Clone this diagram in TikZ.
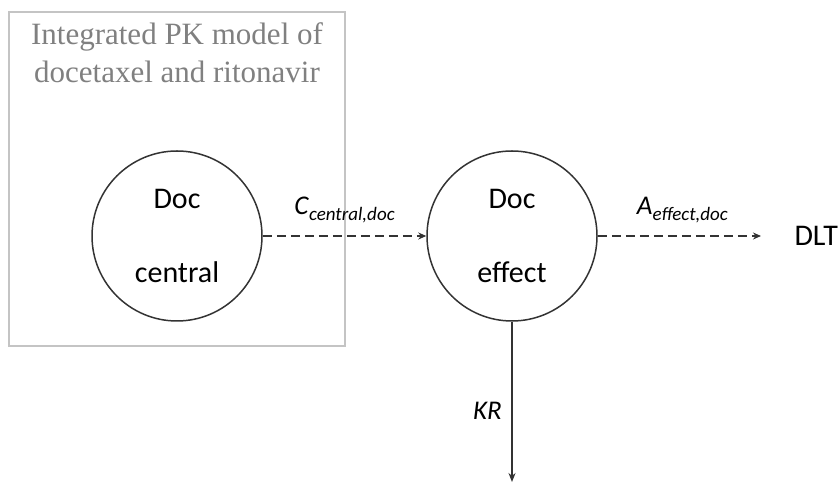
\documentclass[tikz,border=0pt]{standalone}
\usepackage{fontspec}
\setmainfont{Carlito}
\newfontfamily\titlefont{Liberation Serif}
\usetikzlibrary{arrows.meta, positioning}
\definecolor{PKGrey}{HTML}{C4C4C4}
\definecolor{PKTitle}{HTML}{808080}
\definecolor{PKLine}{HTML}{333333}
\newcommand{\sublabel}[2]{\textit{#1}\raisebox{-6pt}{\fontsize{19}{19}\selectfont\textit{#2}}}
\tikzset{
    % compartments
    compartment/.style={
        circle,
        draw=PKLine,
        line width=1.5pt,
        minimum size=170pt,
        inner sep=0pt,
        align=center,
        font=\fontsize{30}{36}\selectfont
    },
    modelbox/.style={
        draw=PKGrey,
        line width=1.3pt
    },
    lbl/.style={
        font=\fontsize{27}{30}\selectfont,
        inner sep=0pt
    },
    % arrows
    dasharrow/.style={
        -{Stealth[length=8pt, width=7pt]},
        line width=1.4pt,
        draw=PKLine,
        dash pattern=on 9pt off 5pt
    },
    arrow/.style={
        -{Stealth[length=9pt, width=7pt]},
        line width=1.4pt,
        draw=PKLine
    }
}
\begin{document}
\begin{tikzpicture}[x=1pt, y=1pt]
    \useasboundingbox (0,0) rectangle (838,484);

    \draw[modelbox] (9,138) rectangle (345,472);
    \node[font=\titlefont\fontsize{31}{38}\selectfont, text=PKTitle, align=center] (title) at (177,431)
        {Integrated PK model of\\docetaxel and ritonavir};

    \node[compartment] (central) at (177,248) {Doc\\[38pt]central};
    \node[compartment] (effect) at (512,248) {Doc\\[38pt]effect};
    \node[font=\fontsize{30}{36}\selectfont, anchor=west] (dlt) at (791,248) {DLT};
    \coordinate (kend) at (512,2);

    \draw[dasharrow] (central) -- (effect)
        node[lbl, midway, anchor=base, yshift=21pt] (cc) {\sublabel{C}{central,doc}};
    \draw[dasharrow, shorten >=30pt] (effect) -- (dlt.west)
        node[lbl, midway, anchor=base, yshift=21pt, xshift=-12pt] (ae) {\sublabel{A}{effect,doc}};
    \draw[arrow] (effect) -- (kend);
    \node[lbl, anchor=base east] (kr) at (502,64) {\textit{KR}};
\end{tikzpicture}
\end{document}
